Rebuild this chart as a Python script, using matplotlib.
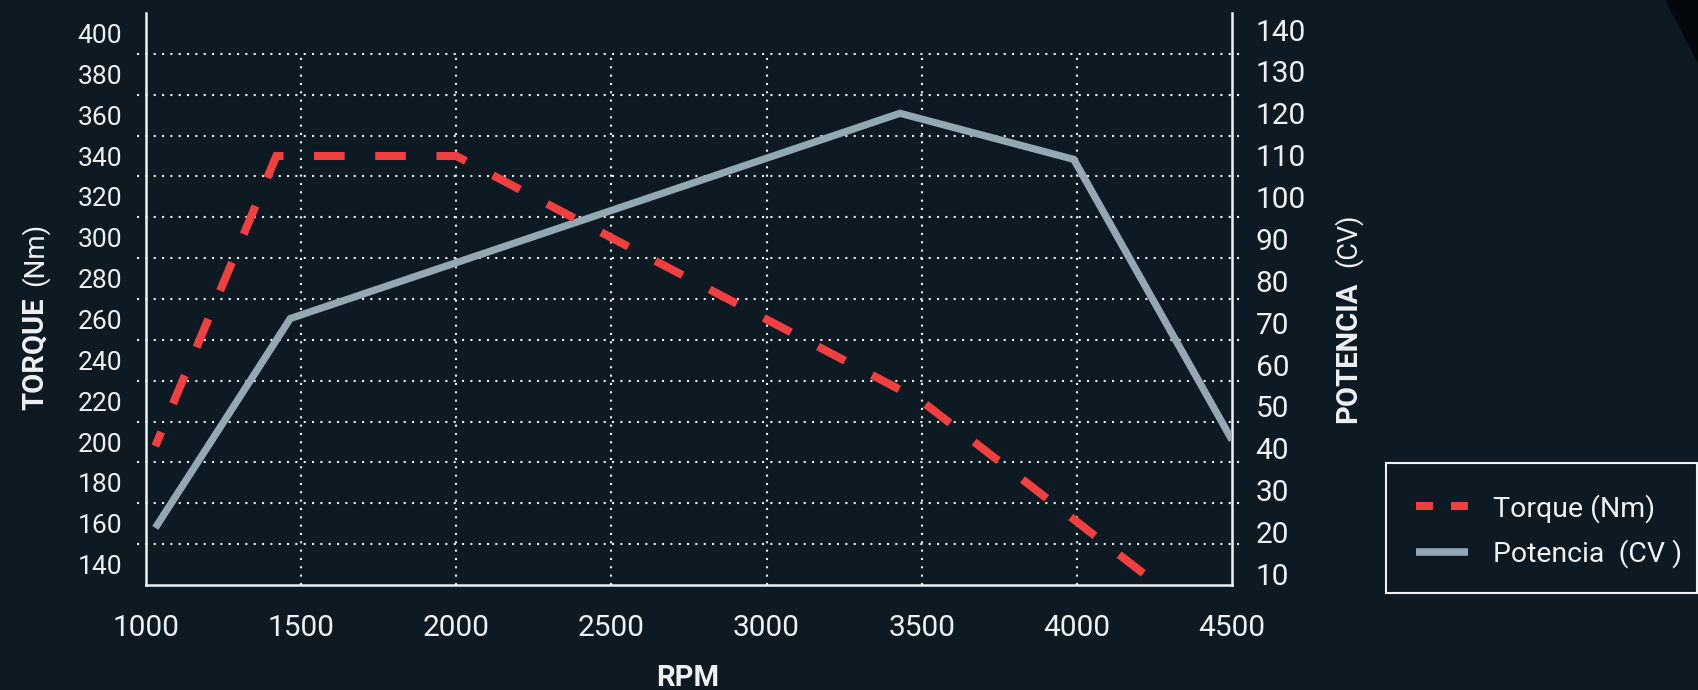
import numpy as np
import matplotlib
matplotlib.use("Agg")
import matplotlib.pyplot as plt
from matplotlib.lines import Line2D
from matplotlib.patches import Rectangle, Polygon
from matplotlib.transforms import blended_transform_factory

# Chart data
rpm_torque = [1030, 1420, 2000, 3500, 4220]
torque_nm = [198, 340, 340, 220, 135]
rpm_power = [1030, 1465, 3430, 3990, 4500]
power_cv = [21, 71, 120, 109, 42]

rpm_ticks = [1000, 1500, 2000, 2500, 3000, 3500, 4000, 4500]
torque_ticks = list(range(140, 401, 20))
power_ticks = list(range(10, 141, 10))
torque_grid = list(range(150, 391, 20))
rpm_grid = [1500, 2000, 2500, 3000, 3500, 4000]

BG = "#0e1a23"
WHITE = "#eef1f3"
RED = "#f23f3f"
GREY = "#93a8b2"

plt.rcParams['font.family'] = ['Roboto', 'DejaVu Sans']

fig = plt.figure(figsize=(16.98, 6.90), dpi=100, facecolor=BG)
ax = fig.add_axes([146 / 1698, 1 - 585 / 690, 1086 / 1698, 572 / 690])
ax2 = ax.twinx()
ax.set_zorder(ax2.get_zorder() + 1)
ax.patch.set_visible(False)
ax2.set_facecolor(BG)

ax.set_xlim(1000, 4500)
ax.set_ylim(130, 410)
ax2.set_ylim(7.37, 143.95)

# dotted grid, drawn under both curves
dots = (0, (1, 3))
hgrid_tr = blended_transform_factory(ax2.transAxes, ax.transData)
for v in torque_grid:
    ax2.plot([-0.0083, 1.0083], [v, v], transform=hgrid_tr, color=WHITE,
             lw=1.5, ls=dots, clip_on=False, zorder=1)
for r in rpm_grid:
    ax2.plot([r, r], [130, 390], transform=ax.transData, color=WHITE,
             lw=1.5, ls=dots, zorder=1)

# curves
ax2.plot(rpm_power, power_cv, color=GREY, lw=5.2, solid_capstyle='butt',
         solid_joinstyle='miter', zorder=3)
ax.plot(rpm_torque, torque_nm, color=RED, lw=5.8, ls=(1.9, (3.8, 3.8)),
        dash_joinstyle='miter', zorder=4)

# spines
for a in (ax, ax2):
    for s in a.spines.values():
        s.set_visible(False)
ax.spines['left'].set_visible(True)
ax.spines['bottom'].set_visible(True)
ax2.spines['right'].set_visible(True)
for s in (ax.spines['left'], ax.spines['bottom'], ax2.spines['right']):
    s.set_color(WHITE)
    s.set_linewidth(1.8)

# ticks
ax.set_xticks(rpm_ticks)
ax.set_yticks(torque_ticks)
ax2.set_yticks(power_ticks)
ax.tick_params(axis='x', length=0, pad=21, labelsize=21.5, labelcolor=WHITE)
ax.tick_params(axis='y', length=0, pad=17, labelsize=19, labelcolor=WHITE)
ax2.tick_params(axis='y', length=0, pad=17, labelsize=21.5, labelcolor=WHITE)

# axis titles
fig.text(35 / 1698, 1 - 410 / 690, "TORQUE", rotation=90, ha='center', va='bottom',
         fontsize=21, fontweight='bold', color=WHITE)
fig.text(35 / 1698, 1 - 286 / 690, "(Nm)", rotation=90, ha='center', va='bottom',
         fontsize=20, color=WHITE)
fig.text(1348 / 1698, 1 - 423 / 690, "POTENCIA", rotation=90, ha='center', va='bottom',
         fontsize=21, fontweight='bold', color=WHITE)
fig.text(1348 / 1698, 1 - 267 / 690, "(CV)", rotation=90, ha='center', va='bottom',
         fontsize=19.5, color=WHITE)
fig.text(688 / 1698, 1 - 686 / 690, "RPM", ha='center', va='baseline',
         fontsize=21, fontweight='bold', color=WHITE)

# legend box and entries
fig.patches.append(Rectangle((1386 / 1698, 1 - 593 / 690), 311 / 1698, 130 / 690,
                             transform=fig.transFigure, facecolor=BG,
                             edgecolor=WHITE, lw=1.5, zorder=0))
handles = [
    Line2D([], [], color=RED, lw=5.8, ls=(0, (2.1, 2.25))),
    Line2D([], [], color=GREY, lw=5.5, solid_capstyle='butt'),
]
leg = fig.legend(handles, ["Torque (Nm)", "Potencia  (CV )"], loc='center left',
                 bbox_to_anchor=(1416 / 1698, 1 - 531 / 690), frameon=False,
                 borderpad=0, borderaxespad=0, handlelength=1.83,
                 handletextpad=0.86, labelspacing=0.58, fontsize=20.5)
for t in leg.get_texts():
    t.set_color(WHITE)

# dark corner in the top right
fig.patches.append(Polygon([(1665 / 1698, 1), (1, 1), (1, 1 - 63 / 690)], closed=True,
                           transform=fig.transFigure, facecolor="#04070b",
                           edgecolor='none', zorder=0))

fig.savefig("out.png", dpi=100, facecolor=BG)
